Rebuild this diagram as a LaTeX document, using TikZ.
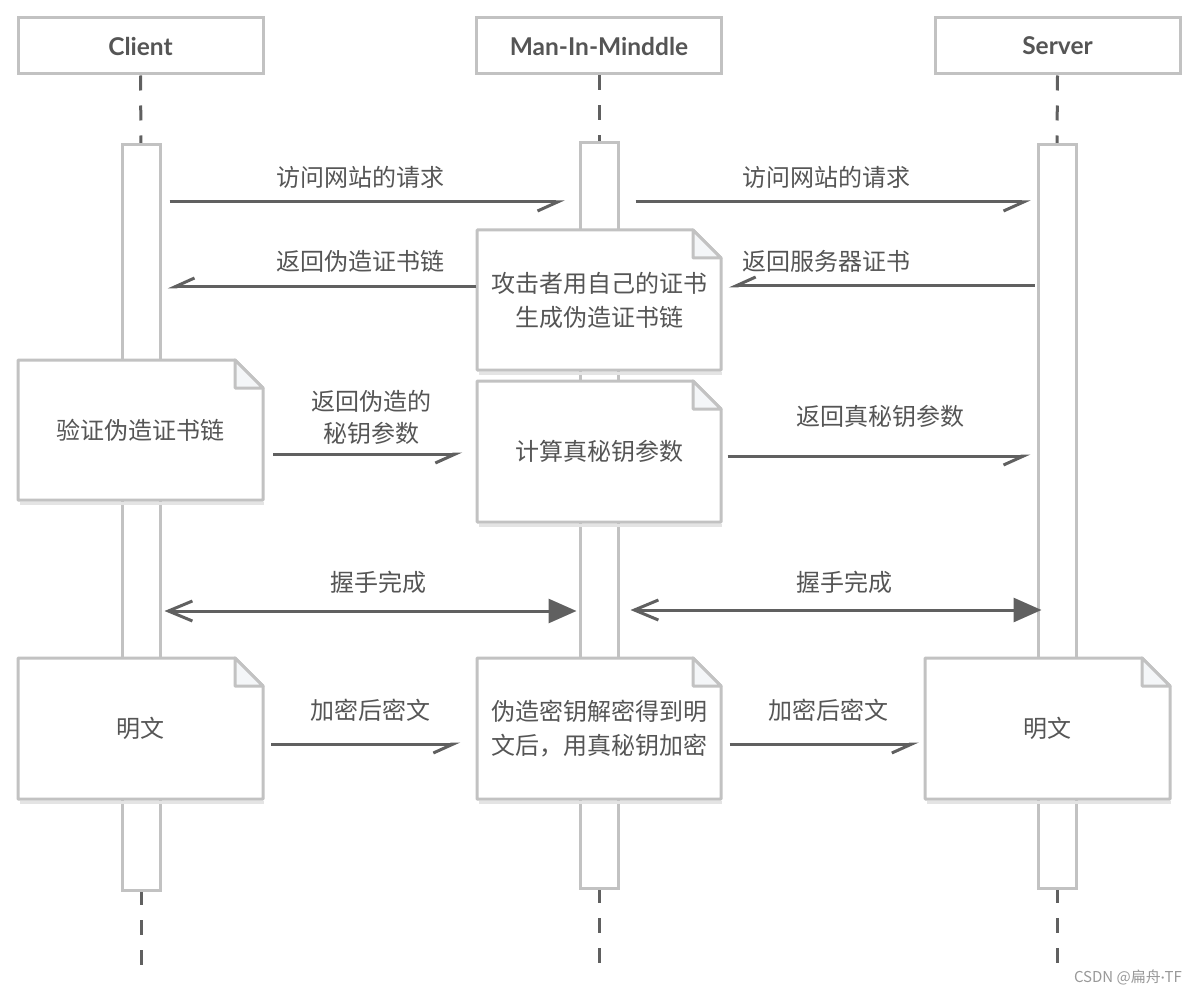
\documentclass[tikz,border=0pt]{standalone}
\usepackage{fontspec}
\setmainfont{Noto Sans CJK SC}
\newfontfamily\hdfont{Lato}
\usetikzlibrary{arrows.meta,calc}
\definecolor{txt}{HTML}{555555}
\definecolor{bord}{HTML}{C2C2C2}
\definecolor{ln}{HTML}{606060}
\definecolor{foldc}{HTML}{F4F6F8}
\definecolor{shad}{HTML}{E4E4E4}
\newcommand\mynote[6]{%
  \draw[shad, line width=3pt] (#2+2,#5+3) -- (#4+1,#5+3);
  \draw[bord, line width=3pt, fill=white, line join=round] (#2,#3) -- (#4-28,#3) -- (#4,#3+28) -- (#4,#5) -- (#2,#5) -- cycle;
  \draw[bord, line width=3pt, fill=foldc, line join=round] (#4-28,#3) -- (#4-28,#3+28) -- (#4,#3+28) -- cycle;
  \node[notetext] (#1) at ({(#2+#4)/2},{(#3+#5)/2}) {#6};
}
\begin{document}
\begin{tikzpicture}[x=1pt,y=-1pt,
  lbl/.style={text=txt, font=\fontsize{24}{32}\selectfont, align=center, inner sep=0pt},
  notetext/.style={text=txt, font=\fontsize{24}{34}\selectfont, align=center, minimum width=245pt, minimum height=141pt, inner sep=0pt},
  head/.style={draw=bord, line width=3pt, fill=white, minimum width=245pt, minimum height=56pt, inner sep=0pt, text=txt, font=\hdfont\bfseries\fontsize{24.5}{28}\selectfont},
  act/.style={draw=bord, line width=3pt, fill=white, minimum width=38pt, inner sep=0pt},
  life/.style={draw=ln, line width=3pt, dash pattern=on 15pt off 15pt},
  msg/.style={draw=ln, line width=3pt, -{Straight Barb[right, length=20pt, width=18pt]}},
  hs/.style={draw=ln, line width=3pt, {Straight Barb[length=24pt, width=20pt]}-{Triangle[length=28pt, width=24pt]}}
]
\useasboundingbox (0,0) rectangle (1200,995);

% headers
\node[head] (hc) at (140.5,46) {Client};
\node[head] (hm) at (599,46) {Man-In-Minddle};
\node[head] (hs) at (1057.5,46) {Server};

% lifeline free ends
\coordinate (ce) at (141,965);
\coordinate (me) at (599,965);
\coordinate (se) at (1057,965);

% lifelines
\draw[life] (hc.south) -- (141,145);
\draw[life] (hm.south) -- (599,143);
\draw[life] (hs.south) -- (1057,145);
\draw[life] (141,890) -- (ce);
\draw[life] (599,888) -- (me);
\draw[life] (1057,888) -- (se);

% activations
\node[act, minimum height=745pt] (ca) at (141,517.5) {};
\node[act, minimum height=745pt] (ma) at (599,515.5) {};
\node[act, minimum height=743pt] (sa) at (1057,516.5) {};

% notes
\mynote{n1}{477}{230}{721}{370}{攻击者用自己的证书\\生成伪造证书链}
\mynote{n2}{18}{360}{263}{500}{验证伪造证书链}
\mynote{n3}{477}{381}{721}{522}{计算真秘钥参数}
\mynote{n4}{18}{658}{263}{799}{明文}
\mynote{n5}{477}{658}{721}{799}{伪造密钥解密得到明\\文后，用真秘钥加密}
\mynote{n6}{925}{658}{1170}{799}{明文}

% messages
\draw[msg, shorten <=8pt, shorten >=14pt] (ca.east |- 0,202) -- (ma.west |- 0,202);
\node[lbl] (l1) at (360,177) {访问网站的请求};
\draw[msg, shorten <=16pt, shorten >=6pt] (ma.east |- 0,202) -- (sa.west |- 0,202);
\node[lbl] (l2) at (826,177) {访问网站的请求};

\draw[msg, shorten >=6pt] (n1.west |- 0,287) -- (ca.east |- 0,287);
\node[lbl] (l3) at (360,261) {返回伪造证书链};
\draw[msg, shorten <=2pt, shorten >=7pt] (sa.west |- 0,286) -- (n1.east |- 0,286);
\node[lbl] (l4) at (826,261) {返回服务器证书};

\draw[msg, shorten <=10pt, shorten >=14pt] (n2.east |- 0,454) -- (n3.west |- 0,454);
\node[lbl] (l5) at (371,417) {返回伪造的\\秘钥参数};
\draw[msg, shorten <=6pt, shorten >=6pt] (n3.east |- 0,456) -- (sa.west |- 0,456);
\node[lbl] (l6) at (880,416) {返回真秘钥参数};

\draw[hs, shorten <=3pt, shorten >=2pt] (ca.east |- 0,611) -- (ma.west |- 0,611);
\node[lbl] (l7) at (378,582) {握手完成};
\draw[hs, shorten <=11pt, shorten >=-5pt] (ma.east |- 0,610) -- (sa.west |- 0,610);
\node[lbl] (l8) at (844,582) {握手完成};

\draw[msg, shorten <=8pt, shorten >=16pt] (n4.east |- 0,744) -- (n5.west |- 0,744);
\node[lbl] (l9) at (370,710) {加密后密文};
\draw[msg, shorten <=8pt, shorten >=6pt] (n5.east |- 0,744) -- (n6.west |- 0,744);
\node[lbl] (l10) at (828,710) {加密后密文};

% watermark
\node[text=black!40, font=\fontsize{15}{17}\selectfont, inner sep=0pt] (wm) at (1128,977) {CSDN @扁舟{\hdfont\char"00B7}TF};
\end{tikzpicture}
\end{document}
